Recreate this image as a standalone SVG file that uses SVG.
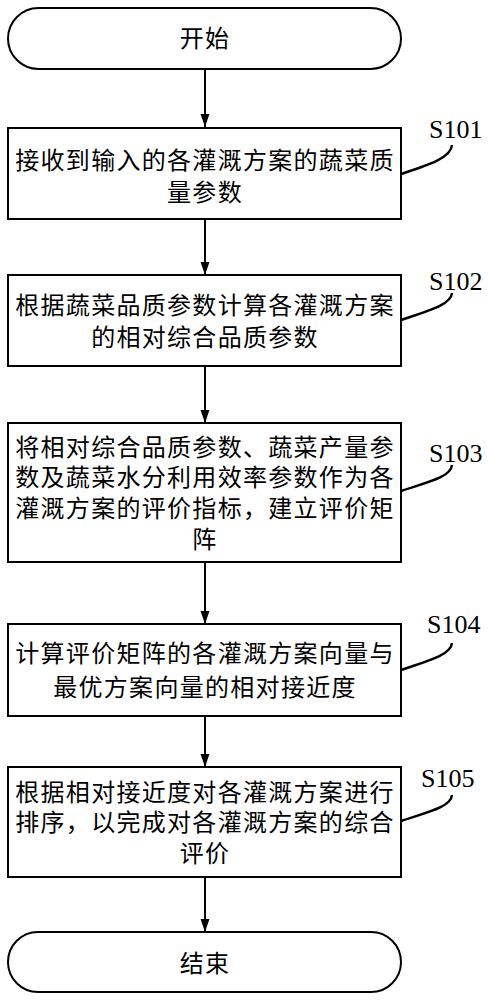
<svg xmlns="http://www.w3.org/2000/svg" width="488" height="1000" viewBox="0 0 488 1000">
<style>
.box{fill:#fff;stroke:#000;stroke-width:2}
.t{font-family:"Liberation Sans","Noto Sans CJK SC",sans-serif;font-size:24px;letter-spacing:1.3px;fill:#000;text-anchor:middle;dominant-baseline:central}
.s{font-family:"Liberation Serif",serif;font-size:26px;fill:#000}
.c{fill:none;stroke:#000;stroke-width:2}
.lead{fill:none;stroke:#000;stroke-width:2.5}
</style>
<defs>
<marker id="ah" markerWidth="13" markerHeight="19" refX="19" refY="6.5" orient="auto" markerUnits="userSpaceOnUse" viewBox="0 0 19 13">
<path d="M0,0 L19,6.5 L0,13 Z" fill="#000"/>
</marker>
</defs>
<g id="connectors">
<line class="c" x1="205" y1="69" x2="205" y2="127" marker-end="url(#ah)"/>
<line class="c" x1="205" y1="219" x2="205" y2="275" marker-end="url(#ah)"/>
<line class="c" x1="205" y1="366" x2="205" y2="423" marker-end="url(#ah)"/>
<line class="c" x1="205" y1="562" x2="205" y2="624" marker-end="url(#ah)"/>
<line class="c" x1="205" y1="716" x2="205" y2="767" marker-end="url(#ah)"/>
<line class="c" x1="205" y1="877" x2="205" y2="932" marker-end="url(#ah)"/>
</g>
<g id="start">
<rect class="box" x="8" y="8" width="393" height="61" rx="30.5"/>
<text class="t" x="205" y="38">开始</text>
</g>
<g id="s101">
<rect class="box" x="8" y="128" width="393" height="91"/>
<text class="t"><tspan x="205" y="160">接收到输入的各灌溉方案的蔬菜质</tspan><tspan x="205" y="192">量参数</tspan></text>
<text class="s" x="429" y="138">S101</text>
<path class="lead" d="M401,174 C428,165 451,158 452,145"/>
</g>
<g id="s102">
<rect class="box" x="8" y="275" width="393" height="91"/>
<text class="t"><tspan x="205" y="305">根据蔬菜品质参数计算各灌溉方案</tspan><tspan x="205" y="337">的相对综合品质参数</tspan></text>
<text class="s" x="429" y="290">S102</text>
<path class="lead" d="M401,320 C428,311 451,305 452,293"/>
</g>
<g id="s103">
<rect class="box" x="8" y="423" width="393" height="139"/>
<text class="t"><tspan x="205" y="447">将相对综合品质参数、蔬菜产量参</tspan><tspan x="205" y="477">数及蔬菜水分利用效率参数作为各</tspan><tspan x="205" y="508">灌溉方案的评价指标，建立评价矩</tspan><tspan x="205" y="539">阵</tspan></text>
<text class="s" x="429" y="462">S103</text>
<path class="lead" d="M401,491 C428,482 451,477 452,465"/>
</g>
<g id="s104">
<rect class="box" x="8" y="624" width="393" height="92"/>
<text class="t"><tspan x="205" y="653">计算评价矩阵的各灌溉方案向量与</tspan><tspan x="205" y="687">最优方案向量的相对接近度</tspan></text>
<text class="s" x="427" y="633">S104</text>
<path class="lead" d="M401,670 C428,661 451,655 452,643"/>
</g>
<g id="s105">
<rect class="box" x="8" y="767" width="393" height="110"/>
<text class="t"><tspan x="205" y="792">根据相对接近度对各灌溉方案进行</tspan><tspan x="205" y="822">排序，以完成对各灌溉方案的综合</tspan><tspan x="205" y="853">评价</tspan></text>
<text class="s" x="421" y="787">S105</text>
<path class="lead" d="M401,821 C428,812 451,807 452,795"/>
</g>
<g id="end">
<rect class="box" x="8" y="932" width="393" height="60" rx="30"/>
<text class="t" x="205" y="963">结束</text>
</g>
</svg>
